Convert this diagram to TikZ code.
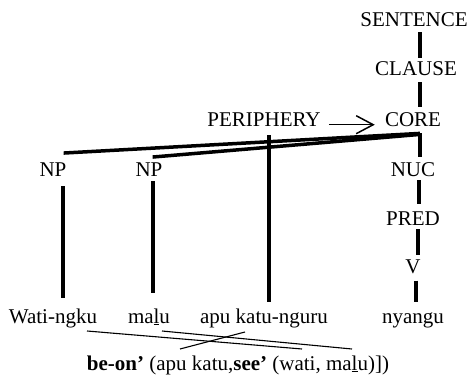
\documentclass[tikz,border=0pt]{standalone}
\usepackage{fontspec}
\setmainfont{Liberation Serif}
\usetikzlibrary{calc,arrows.meta}
\begin{document}
\begin{tikzpicture}[x=1pt,y=-1pt,
  lbl/.style={inner sep=0pt, anchor=base, font=\fontsize{21}{25}\selectfont},
  tree/.style={line width=3.5pt, line cap=butt},
  link/.style={line width=1.1pt},
  gap/.style 2 args={shorten <=#1pt, shorten >=#2pt},
]
\useasboundingbox (0,0) rectangle (468,377);

% column positions of the vertical branches
\coordinate (spine) at (420,0);
\coordinate (spineb) at (419,0);
\coordinate (spinec) at (418,0);
\coordinate (spined) at (416,0);
\coordinate (colA) at (63,0);
\coordinate (colB) at (153,0);
\coordinate (colC) at (269,0);

% labels of the layered structure
\node[lbl] (sentence)  at (414,27)  {SENTENCE};
\node[lbl] (clause)    at (416,76)  {CLAUSE};
\node[lbl] (core)      at (413,127) {CORE};
\node[lbl] (periphery) at (264,127) {PERIPHERY};
\node[lbl] (np1)       at (53,176)  {NP};
\node[lbl] (np2)       at (149,176) {NP};
\node[lbl] (nuc)       at (413,176) {NUC};
\node[lbl] (pred)      at (413,225) {PRED};
\node[lbl] (v)         at (413,273) {V};

% the words of the sentence
\node[lbl] (wati)   at (53,323)  {Wati-ngku};
\node[lbl] (malu)   at (149,323) {ma\underline{l}u};
\node[lbl] (apu)    at (264,323) {apu katu-nguru};
\node[lbl] (nyangu) at (413,323) {nyangu};

% semantic representation
\node[lbl] (gloss) at (238,370) {\textbf{be-on’} (apu katu,\textbf{see’} (wati, ma\underline{l}u)])};

% spine of the tree
\draw[tree, gap={5}{4}] (sentence.south -| spine) -- (clause.north -| spine);
\draw[tree, gap={6}{6}] (clause.south -| spine) -- (core.north -| spine);
\draw[tree, gap={6}{5}] (core.south -| spine) -- (nuc.north -| spine);
\draw[tree, gap={4}{7}] (nuc.south -| spineb) -- (pred.north -| spineb);
\draw[tree, gap={4}{4}] (pred.south -| spinec) -- (v.north -| spinec);
\draw[tree, gap={7}{10}] (v.south -| spined) -- (nyangu.north -| spined);

% branches from the core to the arguments
\draw[tree] ($(core.south -| spine)+(0,6)$) -- ($(np1.north east)+(-3,-9)$);
\draw[tree] ($(core.south -| spine)+(0,7)$) -- ($(np2.north east)+(-10,-5)$);

% argument and periphery stems down to the words
\draw[tree, gap={10}{10}] (np1.south -| colA) -- (wati.north -| colA);
\draw[tree, gap={5}{15}] (np2.south -| colB) -- (malu.north -| colB);
\draw[tree, gap={8}{6}] (periphery.south -| colC) -- (apu.north -| colC);

% periphery modifies the core
\draw[line width=1.5pt, -{Straight Barb[length=17pt,width=18pt]}, gap={8}{10}]
  (periphery.mid east) -- (core.mid west);

% links from the words to the semantic representation
\coordinate (w-top) at (87,331);
\coordinate (w-bot) at (302,349);
\coordinate (m-top) at (162,331);
\coordinate (m-bot) at (352,349);
\coordinate (a-top) at (245,332);
\coordinate (a-bot) at (180,349);
\draw[link] (w-top) -- (w-bot);
\draw[link] (m-top) -- (m-bot);
\draw[link] (a-top) -- (a-bot);
\end{tikzpicture}
\end{document}
